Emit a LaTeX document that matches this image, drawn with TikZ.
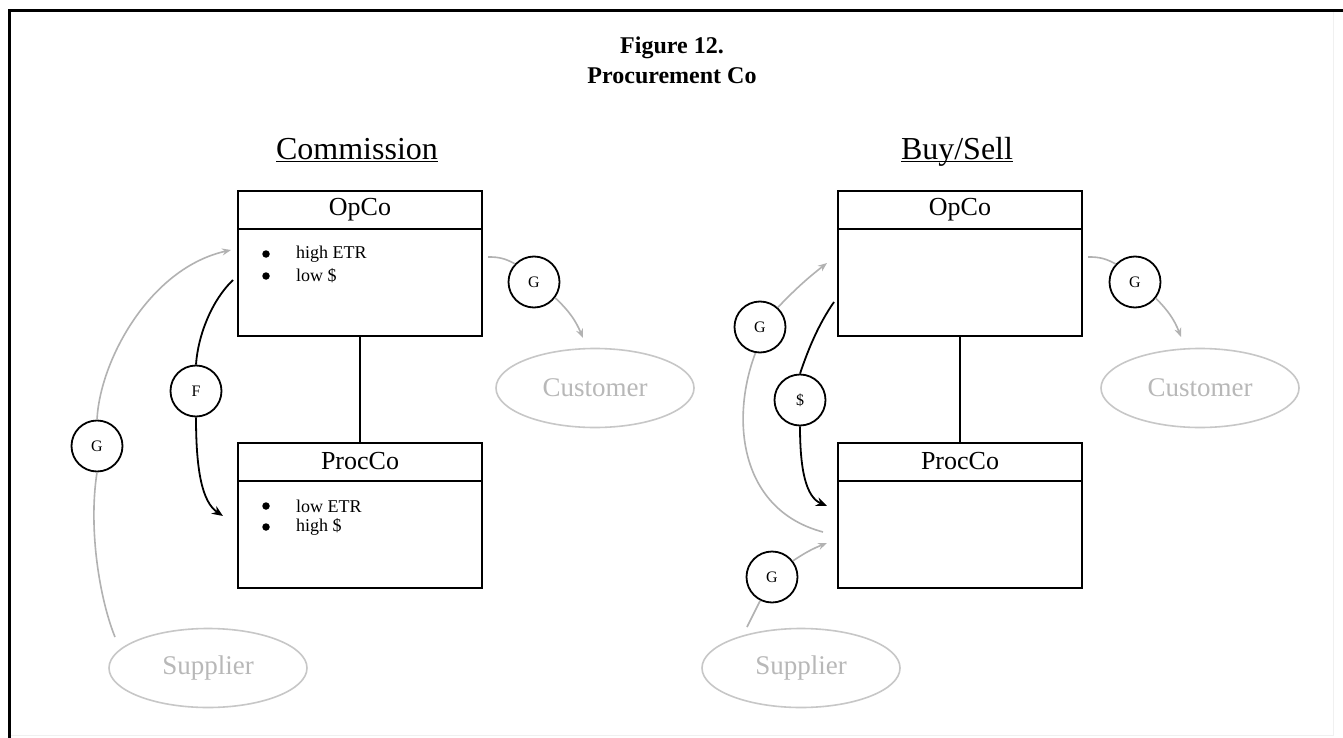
\documentclass[tikz,border=0pt]{standalone}
\usepackage{fontspec}
\setmainfont{Liberation Serif}
\usetikzlibrary{shapes.geometric,arrows.meta}
\begin{document}
\begin{tikzpicture}[x=1pt,y=-1pt,
  hdr/.style={draw,line width=2pt,minimum width=244pt,minimum height=38pt,
    inner sep=0pt,font=\fontsize{26}{30}\selectfont},
  bodybox/.style={draw,line width=2pt,minimum width=244pt,minimum height=107pt,inner sep=0pt},
  item/.style={anchor=west,inner sep=0pt,font=\fontsize{18}{22}\selectfont},
  dot/.style={circle,fill,inner sep=0pt,minimum size=7.5pt},
  tag/.style={circle,draw,line width=1.8pt,minimum size=51pt,inner sep=0pt,
    font=\fontsize{16}{18}\selectfont},
  party/.style={ellipse,draw=black!22,line width=1.6pt,minimum width=198pt,minimum height=79pt,
    inner sep=0pt,text=black!28,font=\fontsize{27}{30}\selectfont},
  heading/.style={font=\fontsize{32}{36}\selectfont},
  flow/.style={line width=1.8pt,-{Stealth[length=11pt,width=9pt]}},
  fline/.style={line width=1.8pt},
  gflow/.style={draw=black!30,line width=1.6pt,-{Stealth[length=9pt,width=7pt]}},
  gline/.style={draw=black!30,line width=1.6pt}]
\useasboundingbox (0,0) rectangle (1343,738);
\fill[white] (0,0) rectangle (1343,738);
% frame
\draw[black!6,line width=1pt] (1333,11) -- (1333,735) -- (9,735);
\draw[line width=3pt] (9,738) -- (9,11) -- (1343,11);

% title
\node[font=\bfseries\fontsize{24}{30}\selectfont,align=center] (title) at (672,60)
  {Figure 12.\\Procurement Co};

% ---------- Commission ----------
\node[heading,anchor=base] (hCom) at (357,160) {\underline{\smash{Commission}}};
\node[hdr] (opL) at (360,210) {OpCo};
\node[bodybox] (opLb) at (360,282.5) {};
\node[hdr] (prL) at (360,461.5) {ProcCo};
\node[bodybox] (prLb) at (360,534) {};
\draw[line width=2pt] (opLb.south) -- (prL.north);

\node[dot] (b1) at (266,254) {};
\node[item] (t1) at (296,254) {high ETR};
\node[dot] (b2) at (266,276) {};
\node[item] (t2) at (296,276) {low \$};
\node[dot] (b3) at (266,506) {};
\node[item] (t3) at (296,506) {low ETR};
\node[dot] (b4) at (266,527) {};
\node[item] (t4) at (296,527) {high \$};

\node[party] (cuL) at (595,388) {Customer};
\node[party] (suL) at (208,668) {Supplier};
\node[tag] (fL) at (196,391) {F};
\node[tag] (gLs) at (97,446) {G};
\node[tag] (gLc) at (534,282) {G};

\coordinate (fa) at (233,280);
\coordinate (fb) at (223,516);
\coordinate (ga) at (231,250);
\coordinate (gb) at (115,637);
\coordinate (gc) at (488,257);
\coordinate (gd) at (583,338);

\draw[fline] (fa) .. controls (212,300) and (198,335) .. (fL.north);
\draw[flow] (fL.south) .. controls (196,470) and (202,502) .. (fb);
\draw[gflow] (gLs.north) .. controls (100,360) and (150,268) .. (ga);
\draw[gline] (gLs.south) .. controls (88,530) and (100,600) .. (gb);
\draw[gline] (gc) to[bend left=15] (gLc);
\draw[gflow] (gLc) to[bend left=12] (gd);

% ---------- Buy/Sell ----------
\node[heading,anchor=base] (hBuy) at (957,160) {\underline{\smash{Buy/Sell}}};
\node[hdr] (opR) at (960,210) {OpCo};
\node[bodybox] (opRb) at (960,282.5) {};
\node[hdr] (prR) at (960,461.5) {ProcCo};
\node[bodybox] (prRb) at (960,534) {};
\draw[line width=2pt] (opRb.south) -- (prR.north);

\node[party] (cuR) at (1200,388) {Customer};
\node[party] (suR) at (801,668) {Supplier};
\node[tag] (dR) at (800,400) {\$};
\node[tag] (gRo) at (760,327) {G};
\node[tag] (gRs) at (772,577) {G};
\node[tag] (gRc) at (1135,282) {G};

\coordinate (da) at (834,302);
\coordinate (db) at (827,506);
\coordinate (ha) at (827,263);
\coordinate (hb) at (823,532);
\coordinate (hc) at (747,627);
\coordinate (hd) at (827,543);
\coordinate (he) at (1088,257);
\coordinate (hf) at (1181,337);

\draw[fline] (da) .. controls (818,325) and (808,350) .. (dR.north);
\draw[flow] (dR.south) .. controls (800,470) and (806,497) .. (db);
\draw[gflow] (gRo) to[bend left=4] (ha);
\draw[gline] (gRo.260) .. controls (730,420) and (740,510) .. (hb);
\draw[gline] (hc) -- (gRs);
\draw[gflow] (gRs) to[bend left=6] (hd);
\draw[gline] (he) to[bend left=15] (gRc);
\draw[gflow] (gRc) to[bend left=12] (hf);
\end{tikzpicture}
\end{document}
